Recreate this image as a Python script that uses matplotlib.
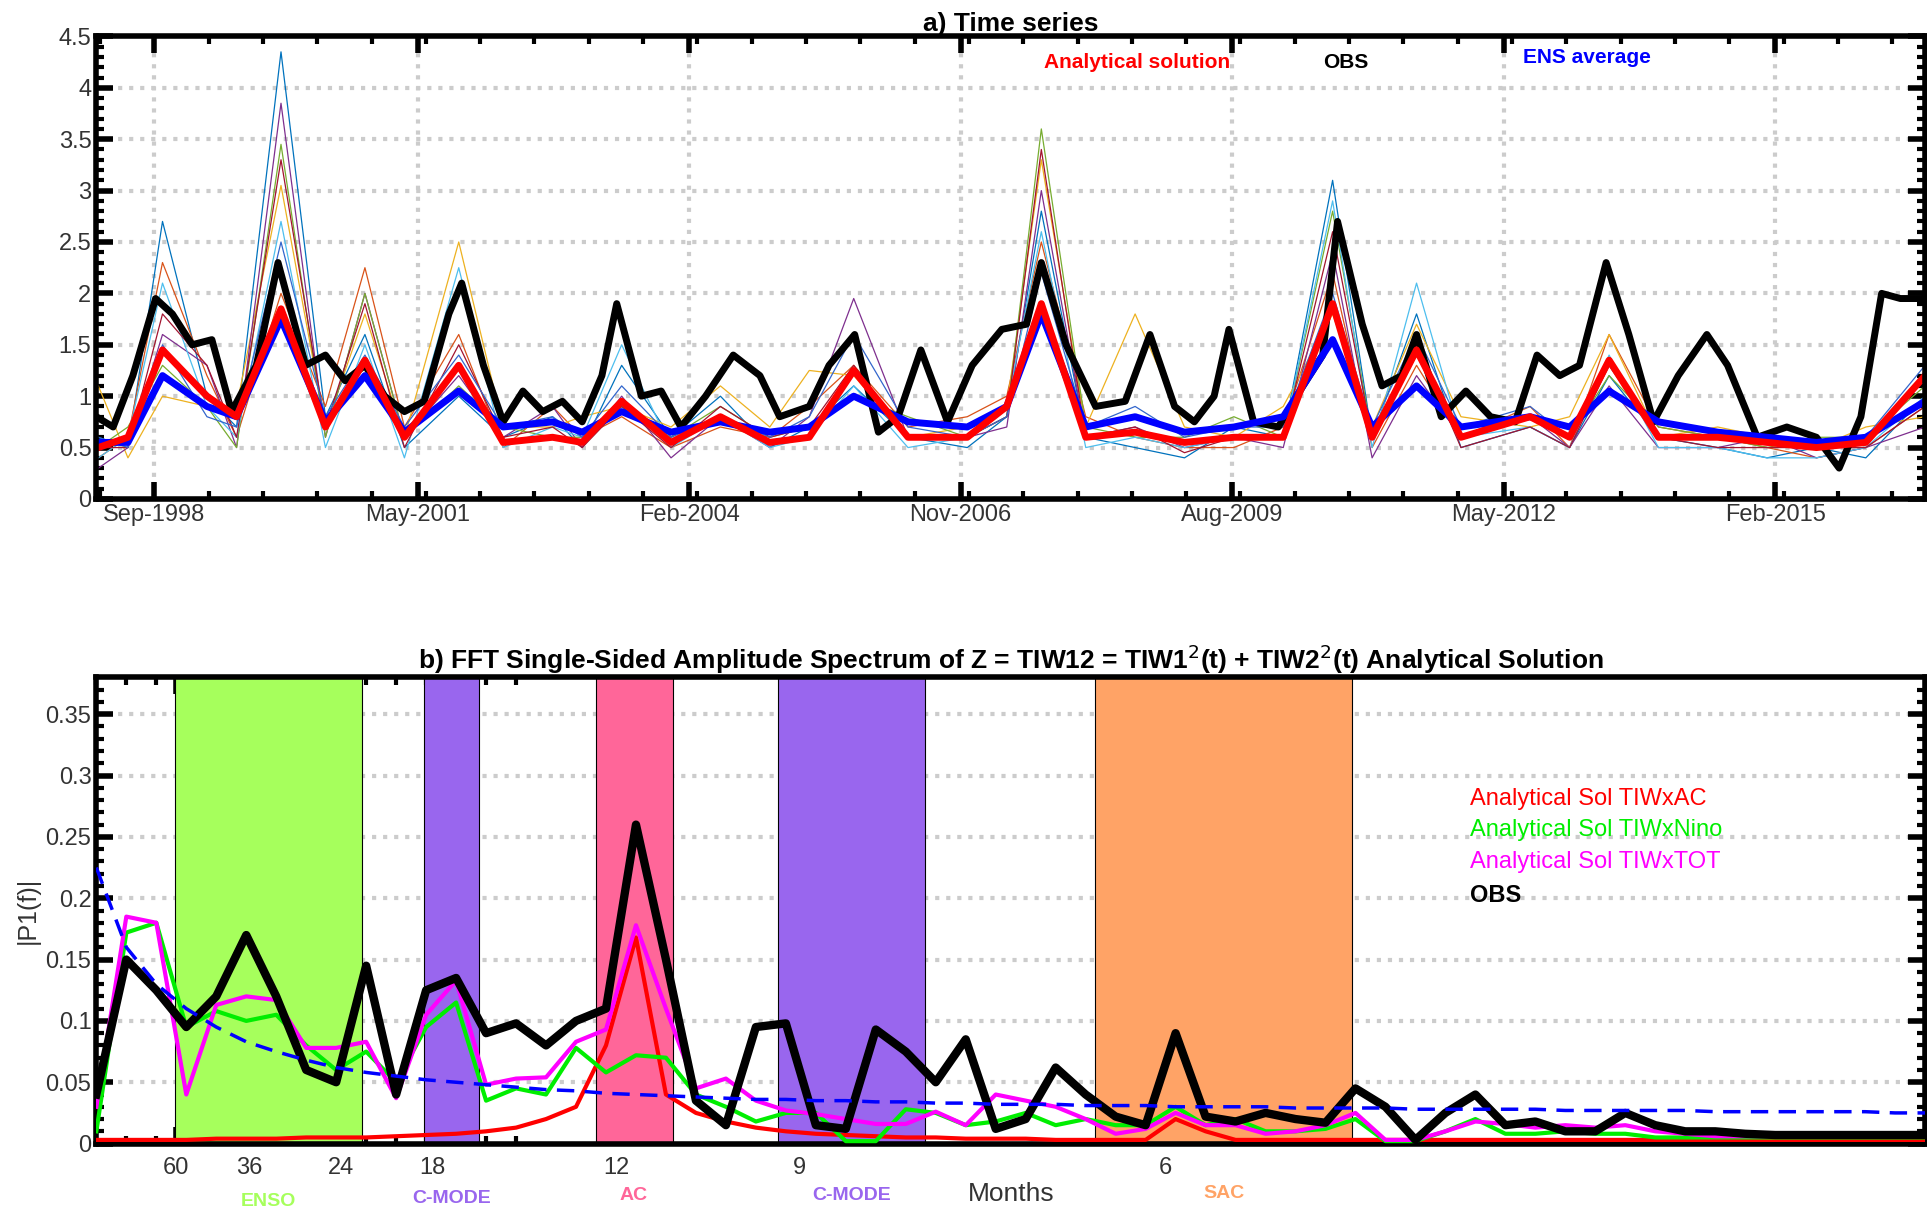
import numpy as np
import matplotlib
matplotlib.use("Agg")
import matplotlib.pyplot as plt
import matplotlib.transforms as mtransforms
from matplotlib.patches import Rectangle

plt.rcParams['font.family'] = ['Liberation Sans', 'DejaVu Sans']

# ---- panel a: time series ----
tick_years = [1998.667, 2001.333, 2004.083, 2006.833, 2009.583, 2012.333, 2015.083]
tick_labels = ['Sep-1998', 'May-2001', 'Feb-2004', 'Nov-2006', 'Aug-2009', 'May-2012', 'Feb-2015']

ens_t = [1998.1, 1998.4, 1998.75, 1999.2, 1999.5, 1999.95, 2000.4, 2000.8, 2001.2, 2001.75,
         2002.2, 2002.7, 2003.0, 2003.4, 2003.9, 2004.4, 2004.9, 2005.3, 2005.75, 2006.3,
         2006.9, 2007.3, 2007.65, 2008.1, 2008.6, 2009.1, 2009.6, 2010.1, 2010.6, 2011.0,
         2011.45, 2011.9, 2012.6, 2013.0, 2013.4, 2013.9, 2014.5, 2015.0, 2015.5, 2016.0, 2016.6]
members = [
    [0.6,0.5,2.7,1.0,0.7,4.35,0.8,1.6,0.5,1.0,0.6,0.8,0.5,1.3,0.6,1.0,0.5,0.7,1.1,0.6,0.5,0.8,2.8,0.6,0.5,0.4,0.7,0.6,3.1,0.6,1.8,0.5,0.7,0.5,1.2,0.6,0.5,0.4,0.5,0.4,1.0],
    [0.4,0.6,2.3,1.2,0.6,2.0,0.9,2.25,0.7,1.6,0.5,0.9,0.6,0.8,0.5,0.7,0.6,0.9,1.3,0.7,0.8,1.0,2.5,0.8,0.6,0.5,0.5,0.7,2.2,0.5,1.3,0.6,0.9,0.5,1.6,0.7,0.6,0.5,0.4,0.5,0.9],
    [1.1,0.4,1.0,0.9,0.9,3.05,0.7,1.8,0.6,2.5,0.7,0.7,0.8,0.9,0.7,1.1,0.7,1.25,1.2,0.6,0.7,0.9,3.3,0.7,1.8,0.7,0.6,0.9,1.8,0.7,1.7,0.8,0.7,0.8,1.6,0.6,0.7,0.6,0.5,0.7,0.8],
    [0.3,0.5,1.6,1.3,0.5,3.85,0.6,2.0,0.6,1.2,0.6,0.9,0.5,1.0,0.4,0.8,0.5,0.8,1.95,0.6,0.6,0.7,3.0,0.6,0.7,0.5,0.6,0.5,2.4,0.4,1.2,0.6,0.8,0.5,1.1,0.5,0.5,0.6,0.4,0.5,0.7],
    [0.5,0.7,1.3,0.9,0.5,3.45,0.6,2.0,0.6,1.1,0.7,0.6,0.6,0.9,0.6,0.9,0.6,0.7,1.0,0.8,0.6,0.8,3.6,0.7,0.6,0.6,0.8,0.6,2.8,0.6,1.4,0.6,0.8,0.6,1.2,0.7,0.6,0.5,0.6,0.6,1.1],
    [0.4,0.6,2.1,0.9,0.6,2.7,0.5,1.5,0.4,2.25,0.5,0.7,0.6,1.5,0.5,0.8,0.5,0.6,1.1,0.5,0.6,0.9,2.6,0.5,0.6,0.5,0.6,0.6,2.9,0.5,2.1,0.6,0.7,0.5,1.4,0.5,0.5,0.4,0.4,0.5,1.0],
    [0.5,0.5,1.8,1.3,0.6,3.3,0.7,1.9,0.5,1.5,0.6,0.7,0.5,0.9,0.5,0.9,0.6,0.7,1.3,0.6,0.6,0.8,3.4,0.6,0.7,0.45,0.6,0.6,2.6,0.6,1.5,0.5,0.7,0.5,1.3,0.6,0.5,0.5,0.5,0.5,0.9],
    [0.6,0.5,1.5,0.8,0.7,2.5,0.8,1.4,0.7,1.4,0.7,0.8,0.6,1.1,0.6,0.8,0.6,0.8,1.6,0.7,0.6,0.8,2.2,0.7,0.9,0.6,0.7,0.7,2.0,0.7,1.6,0.7,0.9,0.6,1.3,0.6,0.6,0.6,0.5,0.6,1.3],
]
member_colors = ['#0072BD', '#D95319', '#EDB120', '#7E2F8E', '#77AC30', '#4DBEEE', '#A2142F', '#3366cc']

analytical = [0.5,0.6,1.45,1.0,0.8,1.85,0.7,1.35,0.6,1.3,0.55,0.6,0.55,0.95,0.55,0.8,0.55,0.6,1.25,0.6,
              0.6,0.9,1.9,0.6,0.65,0.55,0.6,0.6,1.9,0.6,1.45,0.6,0.8,0.6,1.35,0.6,0.6,0.55,0.5,0.55,1.2]
ens_avg = [0.55,0.55,1.2,0.9,0.8,1.75,0.75,1.2,0.65,1.05,0.7,0.75,0.65,0.85,0.65,0.75,0.65,0.7,1.0,0.75,
           0.7,0.9,1.8,0.7,0.8,0.65,0.7,0.8,1.55,0.7,1.1,0.7,0.8,0.7,1.05,0.75,0.65,0.6,0.55,0.6,0.95]

obs_t = [1998.08,1998.25,1998.45,1998.68,1998.85,1999.05,1999.25,1999.45,1999.7,1999.92,
         2000.2,2000.4,2000.6,2000.8,2001.0,2001.2,2001.4,2001.65,2001.78,2002.0,
         2002.2,2002.4,2002.6,2002.8,2003.0,2003.2,2003.35,2003.6,2003.8,2004.0,
         2004.25,2004.53,2004.8,2005.0,2005.3,2005.5,2005.76,2006.0,2006.2,2006.43,
         2006.7,2006.95,2007.25,2007.5,2007.65,2007.9,2008.2,2008.5,2008.75,2009.0,
         2009.2,2009.4,2009.55,2009.8,2010.05,2010.3,2010.5,2010.65,2010.9,2011.1,
         2011.3,2011.45,2011.7,2011.95,2012.2,2012.45,2012.67,2012.9,2013.1,2013.37,
         2013.6,2013.85,2014.1,2014.39,2014.6,2014.9,2015.2,2015.5,2015.73,2015.95,
         2016.16,2016.35,2016.6]
obs_v = [0.8,0.7,1.2,1.95,1.8,1.5,1.55,0.85,1.3,2.3,
         1.3,1.4,1.15,1.3,1.0,0.85,0.95,1.8,2.1,1.3,
         0.75,1.05,0.85,0.95,0.75,1.2,1.9,1.0,1.05,0.7,
         1.0,1.4,1.2,0.8,0.9,1.3,1.6,0.65,0.8,1.45,
         0.75,1.3,1.65,1.7,2.3,1.5,0.9,0.95,1.6,0.9,
         0.75,1.0,1.65,0.75,0.7,1.1,1.4,2.7,1.7,1.1,
         1.2,1.6,0.8,1.05,0.8,0.75,1.4,1.2,1.3,2.3,
         1.6,0.75,1.2,1.6,1.3,0.6,0.7,0.6,0.3,0.8,
         2.0,1.95,1.95]

# ---- panel b: spectrum (index k -> frequency k/N cycles per month) ----
N = 220
k = np.arange(1, 63)
obs_spec = [0.04,0.15,0.125,0.095,0.12,0.17,0.12,0.06,0.05,0.145,
            0.04,0.125,0.135,0.09,0.098,0.08,0.1,0.11,0.26,0.15,
            0.035,0.015,0.095,0.098,0.015,0.012,0.093,0.075,0.05,0.085,
            0.012,0.02,0.062,0.04,0.022,0.015,0.09,0.022,0.018,0.025,
            0.02,0.017,0.045,0.03,0.003,0.025,0.04,0.015,0.018,0.01,
            0.01,0.025,0.015,0.01,0.01,0.008,0.007,0.007,0.007,0.007,0.007,0.007]
tot_spec = [0.03,0.185,0.18,0.04,0.113,0.12,0.117,0.078,0.078,0.083,
            0.037,0.105,0.133,0.048,0.053,0.054,0.083,0.093,0.178,0.11,
            0.045,0.053,0.035,0.027,0.024,0.02,0.016,0.016,0.026,0.015,
            0.04,0.035,0.03,0.02,0.008,0.012,0.025,0.015,0.015,0.008,
            0.01,0.015,0.025,0.003,0.003,0.01,0.018,0.016,0.013,0.015,
            0.013,0.015,0.01,0.008,0.006,0.006,0.006,0.006,0.006,0.006,0.006,0.006]
nino_spec = [0.01,0.172,0.18,0.095,0.108,0.1,0.105,0.08,0.06,0.075,
             0.05,0.095,0.115,0.035,0.045,0.04,0.078,0.058,0.072,0.07,
             0.04,0.03,0.018,0.025,0.025,0.002,0.002,0.028,0.025,0.015,
             0.018,0.025,0.015,0.02,0.015,0.015,0.03,0.015,0.02,0.01,
             0.01,0.012,0.02,0.002,0.002,0.01,0.02,0.008,0.008,0.01,
             0.008,0.008,0.005,0.005,0.005,0.005,0.005,0.005,0.005,0.005,0.005,0.005]
ac_spec = [0.003,0.003,0.003,0.003,0.004,0.004,0.004,0.005,0.005,0.005,
           0.006,0.007,0.008,0.01,0.013,0.02,0.03,0.08,0.168,0.04,
           0.025,0.018,0.013,0.01,0.008,0.007,0.006,0.005,0.005,0.004,
           0.004,0.004,0.003,0.003,0.003,0.003,0.02,0.01,0.003,0.003,
           0.003,0.003,0.003,0.003,0.003,0.003,0.003,0.003,0.003,0.003,
           0.003,0.003,0.003,0.003,0.003,0.003,0.003,0.003,0.003,0.003,0.003,0.003]
red_noise = [0.225,0.16,0.13,0.11,0.095,0.083,0.075,0.068,0.062,0.058,
             0.055,0.052,0.05,0.048,0.046,0.044,0.043,0.041,0.04,0.039,
             0.038,0.037,0.036,0.036,0.035,0.035,0.034,0.034,0.033,0.033,
             0.032,0.032,0.032,0.031,0.031,0.031,0.030,0.030,0.030,0.030,
             0.029,0.029,0.029,0.029,0.028,0.028,0.028,0.028,0.028,0.027,
             0.027,0.027,0.027,0.027,0.026,0.026,0.026,0.026,0.026,0.026,0.025,0.025]

period_ticks = [60, 36, 24, 18, 12, 9, 6]
bands = [(3.61, 9.86, '#a6ff5c', 'ENSO', -0.125), (11.94, 13.78, '#9966ee', 'C-MODE', -0.118),
         (17.65, 20.22, '#ff6699', 'AC', -0.111), (23.73, 28.63, '#9966ee', 'C-MODE', -0.111),
         (34.3, 42.9, '#ffa366', 'SAC', -0.108)]

fig = plt.figure(figsize=(19.27, 12.14), dpi=100)
ax1 = fig.add_axes([0.050, 0.589, 0.949, 0.381])
ax2 = fig.add_axes([0.050, 0.058, 0.949, 0.384])

for ax in (ax1, ax2):
    for s in ax.spines.values():
        s.set_linewidth(4)
    ax.tick_params(which='both', direction='in', top=True, right=True, labelsize=17,
                   labelcolor='#333333')
    ax.tick_params(which='major', length=12, width=4)
    ax.tick_params(which='minor', length=6, width=3)

for m, c in zip(members, member_colors):
    ax1.plot(ens_t, m, color=c, lw=0.9)
ax1.plot(obs_t, obs_v, color='black', lw=5)
ax1.plot(ens_t, ens_avg, color='blue', lw=5)
ax1.plot(ens_t, analytical, color='red', lw=5)
ax1.set_xlim(1998.08, 2016.6)
ax1.set_ylim(0, 4.5)
ax1.set_xticks(tick_years)
ax1.set_xticklabels(tick_labels)
ax1.set_xticks(np.arange(1998.667 - 0.55, 2016.6, 0.55), minor=True)
ax1.set_yticks(np.arange(0, 4.51, 0.5))
ax1.set_yticklabels(['0', '0.5', '1', '1.5', '2', '2.5', '3', '3.5', '4', '4.5'])
ax1.set_yticks(np.arange(0, 4.5, 0.1), minor=True)
ax1.grid(True, which='major', color='#cccccc', ls=':', lw=3)
ax1.set_title('a) Time series', fontsize=19, fontweight='bold', pad=4)
ax1.text(0.569, 0.944, 'Analytical solution', color='red', fontsize=15, fontweight='bold',
         transform=ax1.transAxes, ha='center', va='center')
ax1.text(0.683, 0.944, 'OBS', color='black', fontsize=15, fontweight='bold',
         transform=ax1.transAxes, ha='center', va='center')
ax1.text(0.815, 0.955, 'ENS average', color='blue', fontsize=15, fontweight='bold',
         transform=ax1.transAxes, ha='center', va='center')

f = k / N
blend = mtransforms.blended_transform_factory(ax2.transData, ax2.transAxes)
for lo, hi, col, lab, ly in bands:
    ax2.add_patch(Rectangle((lo / N, 0), (hi - lo) / N, 0.38, facecolor=col,
                            edgecolor='black', lw=0.8, zorder=1))
    ax2.text((lo + hi) / 2 / N, ly, lab, color=col, fontsize=14, fontweight='bold',
             ha='center', va='center', transform=blend, clip_on=False)
ax2.plot(f, ac_spec, color='red', lw=3, zorder=3)
ax2.plot(f, nino_spec, color='#00ee00', lw=3, zorder=3)
ax2.plot(f, tot_spec, color='magenta', lw=3, zorder=3)
ax2.plot(f, obs_spec, color='black', lw=6, zorder=4)
ax2.plot(f, red_noise, color='blue', lw=2.5, ls=(0, (5, 3)), zorder=5)
ax2.set_xlim(1 / N, 62 / N)
ax2.set_ylim(0, 0.38)
ax2.set_xticks([1 / p for p in period_ticks])
ax2.set_xticklabels([str(p) for p in period_ticks])
ax2.tick_params(axis='x', which='major', pad=10)
ax2.set_xticks(np.arange(1, 16) / N, minor=True)
ax2.set_yticks(np.arange(0, 0.351, 0.05))
ax2.set_yticklabels(['0', '0.05', '0.1', '0.15', '0.2', '0.25', '0.3', '0.35'])
ax2.set_yticks(np.arange(0, 0.38, 0.01), minor=True)
ax2.yaxis.grid(True, color='#cccccc', ls=':', lw=3, zorder=0)
ax2.set_axisbelow(True)
ax2.set_ylabel('|P1(f)|', fontsize=18, color='#333333')
ax2.set_xlabel('Months', fontsize=19, color='#333333', labelpad=2)
ax2.set_title(r'b) FFT Single-Sided Amplitude Spectrum of Z = TIW12 = TIW1$^2$(t) + TIW2$^2$(t) Analytical Solution',
              fontsize=19, fontweight='bold', pad=6)
for y, txt, col, w in [(0.739, 'Analytical Sol TIWxAC', 'red', 'normal'),
                       (0.673, 'Analytical Sol TIWxNino', '#00ee00', 'normal'),
                       (0.604, 'Analytical Sol TIWxTOT', 'magenta', 'normal'),
                       (0.533, 'OBS', 'black', 'bold')]:
    ax2.text(0.751, y, txt, color=col, fontsize=17, fontweight=w, transform=ax2.transAxes,
             va='center', zorder=6)

fig.savefig('out.png', dpi=100)
